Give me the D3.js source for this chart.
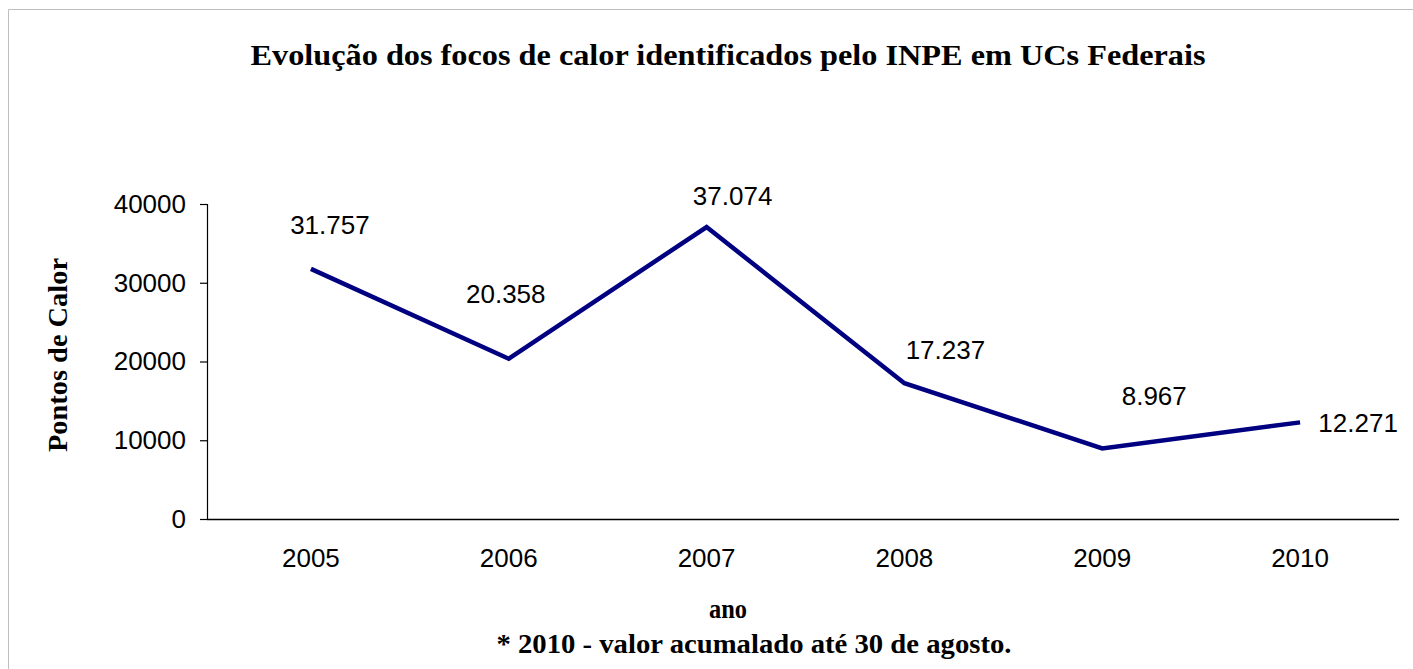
<!DOCTYPE html>
<html><head><meta charset="utf-8">
<script src="https://cdn.jsdelivr.net/npm/d3@7"></script>
<style>html,body{margin:0;padding:0;background:#fff;}svg{display:block;}</style>
</head><body>
<svg id="c" width="1413" height="669"></svg>
<script>
const years = ["2005","2006","2007","2008","2009","2010"];
const focos = [31757, 20358, 37074, 17237, 8967, 12271];
const valueLabels = ["31.757","20.358","37.074","17.237","8.967","12.271"];
const yTicks = [0, 10000, 20000, 30000, 40000];
const titleText = "Evolução dos focos de calor identificados pelo INPE em UCs Federais";
const yTitle = "Pontos de Calor";
const xTitle = "ano";
const footnote = "* 2010 - valor acumalado até 30 de agosto.";
// label placement offsets (layout only)
const labelOffsets = [[19,-44],[-3,-65],[26,-31],[41,-33],[52,-52],[58,1]];

const svg = d3.select("#c");
const serif = "'Liberation Serif','DejaVu Serif',serif";
const sans = "'Liberation Sans',Arial,sans-serif";

// border
svg.append("path").attr("d","M8.5,669 L8.5,9.5 L1413,9.5").attr("fill","none").attr("stroke","#bfbfbf").attr("stroke-width",1);

const x0 = 207, x1 = 1399, yTop = 204, yBot = 519;
const x = d3.scaleBand().domain(years).range([212, 1399]).padding(0);
const y = d3.scaleLinear().domain([0, 40000]).range([yBot, yTop]);

// y axis
const yAxis = svg.append("g").attr("transform",`translate(${x0},0)`)
  .call(d3.axisLeft(y).tickValues(yTicks).tickSize(7).tickPadding(14).tickFormat(d3.format("d")));
yAxis.select(".domain").attr("stroke","#000").attr("stroke-width",1.2).attr("d",`M-7,${yTop}.5H0.5V${yBot}`);
yAxis.selectAll(".tick line").attr("stroke","#000").attr("stroke-width",1.2);
yAxis.selectAll("text").attr("font-family",sans).attr("font-size",26).attr("fill","#000");

// x axis line
const xAxis = svg.append("g").attr("transform",`translate(0,${yBot})`)
  .call(d3.axisBottom(x).tickSize(0).tickPadding(30));
xAxis.select(".domain").attr("stroke","#000").attr("stroke-width",1.5).attr("d",`M${x0},0.5H${x1}`);
xAxis.selectAll("text").attr("font-family",sans).attr("font-size",26).attr("fill","#000");

const cx = d => x(d) + x.bandwidth()/2;

// line
const line = d3.line().x((d,i)=>cx(years[i])).y(d=>y(d));
svg.append("path").datum(focos).attr("d",line).attr("fill","none")
  .attr("stroke","#000080").attr("stroke-width",4.5).attr("stroke-linejoin","miter");

// value labels
svg.append("g").selectAll("text").data(focos).join("text")
  .attr("x",(d,i)=>cx(years[i]) + labelOffsets[i][0])
  .attr("y",(d,i)=>y(d) + labelOffsets[i][1])
  .attr("dy","0.35em").attr("text-anchor","middle")
  .attr("font-family",sans).attr("font-size",26).attr("fill","#000")
  .text((d,i)=>valueLabels[i]);

// titles
svg.append("text").attr("x",728).attr("y",65).attr("text-anchor","middle")
  .attr("font-family",serif).attr("font-weight","bold").attr("font-size",30)
  .attr("textLength",955).attr("lengthAdjust","spacingAndGlyphs").text(titleText);
svg.append("text").attr("transform","translate(67,355) rotate(-90)").attr("text-anchor","middle")
  .attr("font-family",serif).attr("font-weight","bold").attr("font-size",27)
  .attr("textLength",194).attr("lengthAdjust","spacingAndGlyphs").text(yTitle);
svg.append("text").attr("x",728).attr("y",618).attr("text-anchor","middle")
  .attr("font-family",serif).attr("font-weight","bold").attr("font-size",27)
  .attr("textLength",38).attr("lengthAdjust","spacingAndGlyphs").text(xTitle);
svg.append("text").attr("x",754).attr("y",653).attr("text-anchor","middle")
  .attr("font-family",serif).attr("font-weight","bold").attr("font-size",28)
  .attr("textLength",515).attr("lengthAdjust","spacingAndGlyphs").text(footnote);
</script>
</body></html>
